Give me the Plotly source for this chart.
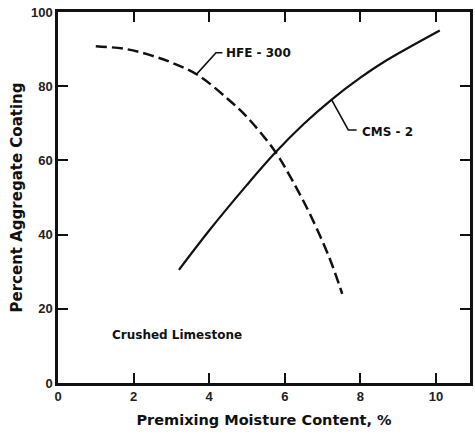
import plotly.graph_objects as go

# Data
hfe_x = [1.0, 1.8, 2.4, 3.0, 3.7, 4.5, 5.0, 5.75, 6.2, 6.7, 7.2, 7.52]
hfe_y = [90.8, 90.0, 88.5, 86.4, 83.0, 76.5, 71.7, 62.3, 54.6, 44.8, 33.2, 24.0]

cms_x = [3.2, 4.0, 5.0, 5.75, 6.5, 7.24, 8.0, 8.6, 10.1]
cms_y = [30.5, 41.1, 53.4, 62.1, 69.8, 76.4, 82.3, 86.4, 95.0]

# label leader lines (data coords)
hfe_leader_x = [4.35, 4.18, 3.68]
hfe_leader_y = [89.0, 89.0, 83.4]
cms_leader_x = [7.24, 7.68, 7.9]
cms_leader_y = [76.3, 68.2, 68.2]

x_ticks = [0, 2, 4, 6, 8, 10]
y_ticks = [0, 20, 40, 60, 80, 100]

FONT = "DejaVu Sans"
TICKFONT = "Liberation Sans"

fig = go.Figure()
fig.add_trace(go.Scatter(x=hfe_x, y=hfe_y, mode="lines", line_shape="spline",
                         line=dict(color="#111", width=2.5, dash="11px,5px"),
                         showlegend=False, hoverinfo="skip"))
fig.add_trace(go.Scatter(x=cms_x, y=cms_y, mode="lines", line_shape="spline",
                         line=dict(color="#111", width=2.2),
                         showlegend=False, hoverinfo="skip"))
fig.add_trace(go.Scatter(x=hfe_leader_x, y=hfe_leader_y, mode="lines",
                         line=dict(color="#111", width=1.6),
                         showlegend=False, hoverinfo="skip"))
fig.add_trace(go.Scatter(x=cms_leader_x, y=cms_leader_y, mode="lines",
                         line=dict(color="#111", width=1.6),
                         showlegend=False, hoverinfo="skip"))

fig.add_annotation(x=4.4, y=89, text="HFE - 300", showarrow=False, xanchor="left",
                   font=dict(family=FONT, size=12, color="#111", weight="bold"))
fig.add_annotation(x=7.98, y=67.7, text="CMS - 2", showarrow=False, xanchor="left",
                   font=dict(family=FONT, size=12, color="#111", weight="bold"))
fig.add_annotation(x=1.37, y=12.9, text="Crushed Limestone", showarrow=False, xanchor="left",
                   font=dict(family=FONT, size=12, color="#111", weight="bold"))

axis_common = dict(showline=True, linecolor="#111", linewidth=2.5, mirror="ticks",
                   ticks="inside", ticklen=10, tickwidth=1.5, tickcolor="#111",
                   showgrid=False, zeroline=False,
                   tickfont=dict(family=TICKFONT, size=13, color="#222", weight="bold"))

fig.update_xaxes(range=[0, 10.9], tickvals=x_ticks, ticktext=[str(v) for v in x_ticks],
                 title=dict(text="Premixing Moisture Content, %", standoff=12,
                            font=dict(family=FONT, size=14.5, color="#111", weight="bold")),
                 **axis_common)
fig.update_yaxes(range=[0, 100], tickvals=y_ticks, ticktext=[str(v) for v in y_ticks],
                 title=dict(text="Percent Aggregate Coating", standoff=5,
                            font=dict(family=FONT, size=15, color="#111", weight="bold")),
                 **axis_common)

fig.update_layout(width=475, height=436, margin=dict(l=58, r=2, t=12, b=53),
                  paper_bgcolor="white", plot_bgcolor="white")

fig.write_html("out.html")
